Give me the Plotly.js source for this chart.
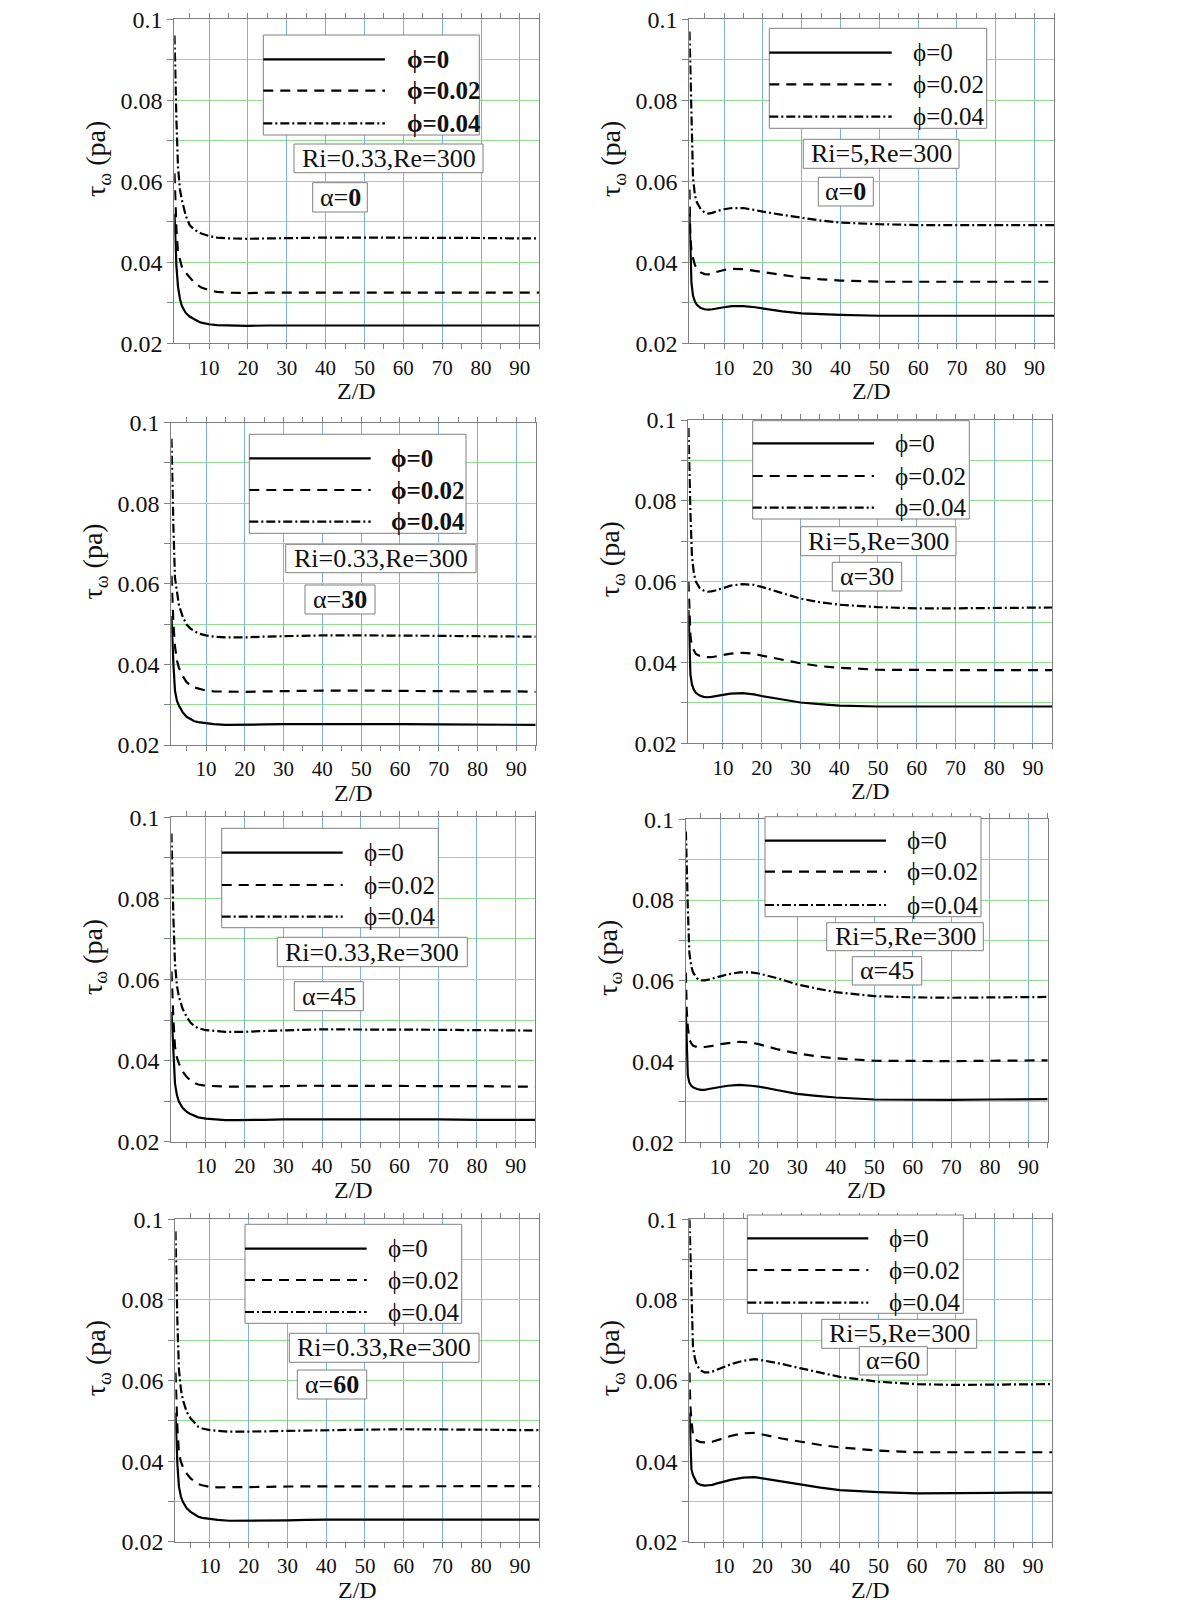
<!DOCTYPE html>
<html>
<head>
<meta charset="utf-8">
<script src="https://cdn.plot.ly/plotly-3.0.1.min.js"></script>
<style>
html,body{margin:0;padding:0;background:#fff;}
#chart{width:1200px;height:1612px;}
</style>
</head>
<body>
<div id="chart"></div>
<script>
// ---------- DATA ----------
const Z_D = [1.1,1.3,1.6,2,2.5,3,4,5,6,7,8,10,12,15,18,20,25,30,35,40,50,60,70,80,90,95];

// Ri=0.33, alpha=0
const P1_PHI0   = [0.052,0.046,0.039,0.034,0.031,0.0292,0.0275,0.0266,0.026,0.0255,0.0251,0.0247,0.0245,0.0244,0.0243,0.0243,0.0244,0.0244,0.0245,0.0245,0.0245,0.0245,0.0244,0.0244,0.0244,0.0244];
const P1_PHI002 = [0.062,0.055,0.048,0.0425,0.0403,0.0389,0.0374,0.0363,0.0352,0.0344,0.0338,0.0331,0.0327,0.0325,0.0324,0.0324,0.0325,0.0325,0.0325,0.0326,0.0326,0.0326,0.0325,0.0325,0.0325,0.0325];
const P1_PHI004 = [0.096,0.086,0.075,0.0636,0.058,0.0554,0.0515,0.0492,0.0482,0.0476,0.0471,0.0465,0.0461,0.0459,0.0458,0.0458,0.0459,0.046,0.0461,0.0461,0.0461,0.0461,0.046,0.046,0.0459,0.0459];

// Ri=5, alpha=0
const P2_PHI0   = [0.052,0.043,0.035,0.0318,0.0303,0.0295,0.0287,0.0284,0.0283,0.0284,0.0286,0.0289,0.0292,0.0292,0.0289,0.0286,0.0279,0.0274,0.0272,0.027,0.0268,0.0268,0.0268,0.0268,0.0268,0.0268];
const P2_PHI002 = [0.058,0.047,0.0425,0.0408,0.0393,0.0385,0.0375,0.0371,0.037,0.0372,0.0376,0.0381,0.0384,0.0383,0.0379,0.0375,0.0368,0.0362,0.0358,0.0355,0.0352,0.0352,0.0352,0.0352,0.0352,0.0352];
const P2_PHI004 = [0.097,0.087,0.072,0.061,0.0565,0.0548,0.0531,0.0523,0.052,0.0522,0.0526,0.0531,0.0534,0.0534,0.0529,0.0525,0.0517,0.051,0.0503,0.0498,0.0494,0.0492,0.0492,0.0492,0.0492,0.0492];

// Ri=0.33, alpha=30
const P3_PHI0   = [0.052,0.046,0.04,0.0335,0.031,0.0298,0.0281,0.027,0.0264,0.0259,0.0257,0.0254,0.0252,0.025,0.025,0.025,0.0251,0.0252,0.0252,0.0253,0.0252,0.0252,0.0251,0.0251,0.0251,0.025];
const P3_PHI002 = [0.062,0.056,0.05,0.0445,0.041,0.0392,0.0371,0.0356,0.0348,0.0343,0.034,0.0335,0.0333,0.0332,0.0332,0.0332,0.0333,0.0334,0.0335,0.0335,0.0335,0.0334,0.0334,0.0333,0.0333,0.0332];
const P3_PHI004 = [0.096,0.086,0.074,0.0615,0.0575,0.0548,0.0518,0.0499,0.0489,0.0482,0.0477,0.0472,0.0469,0.0467,0.0467,0.0467,0.0469,0.047,0.0471,0.0472,0.0472,0.0472,0.0471,0.047,0.0469,0.0469];

// Ri=5, alpha=30
const P4_PHI0   = [0.053,0.045,0.037,0.0345,0.0332,0.0325,0.0318,0.0315,0.0314,0.0315,0.0317,0.032,0.0323,0.0324,0.0321,0.0317,0.0309,0.0301,0.0297,0.0293,0.0291,0.0291,0.0291,0.0291,0.0291,0.0291];
const P4_PHI002 = [0.06,0.052,0.0465,0.0439,0.0428,0.0421,0.0416,0.0414,0.0413,0.0413,0.0415,0.0418,0.0422,0.0424,0.0422,0.0417,0.0408,0.0398,0.0391,0.0387,0.0382,0.0381,0.0381,0.0381,0.0381,0.0381];
const P4_PHI004 = [0.098,0.088,0.077,0.0662,0.062,0.06,0.0584,0.0578,0.0575,0.0576,0.0578,0.0584,0.059,0.0594,0.0592,0.0587,0.0573,0.0558,0.0549,0.0543,0.0537,0.0534,0.0534,0.0535,0.0536,0.0536];

// Ri=0.33, alpha=45
const P5_PHI0   = [0.052,0.047,0.04,0.0344,0.0315,0.0299,0.0283,0.0274,0.0268,0.0263,0.026,0.0257,0.0255,0.0253,0.0253,0.0253,0.0254,0.0255,0.0255,0.0256,0.0255,0.0255,0.0255,0.0254,0.0254,0.0254];
const P5_PHI002 = [0.062,0.056,0.05,0.0434,0.0408,0.0393,0.0373,0.036,0.0351,0.0345,0.0341,0.0338,0.0337,0.0336,0.0336,0.0336,0.0337,0.0337,0.0338,0.0338,0.0338,0.0338,0.0337,0.0337,0.0336,0.0336];
const P5_PHI004 = [0.096,0.086,0.075,0.064,0.0585,0.0558,0.0527,0.0508,0.0494,0.0485,0.048,0.0475,0.0473,0.0471,0.0471,0.0471,0.0473,0.0475,0.0476,0.0477,0.0477,0.0477,0.0476,0.0475,0.0474,0.0474];

// Ri=5, alpha=45
const P6_PHI0   = [0.052,0.043,0.0365,0.0348,0.034,0.0336,0.0332,0.033,0.033,0.0332,0.0334,0.0337,0.034,0.0342,0.034,0.0338,0.0329,0.032,0.0315,0.0311,0.0306,0.0305,0.0305,0.0306,0.0307,0.0307];
const P6_PHI002 = [0.062,0.053,0.0485,0.0455,0.0445,0.0439,0.0436,0.0435,0.0436,0.0437,0.0439,0.0443,0.0446,0.0449,0.0447,0.0443,0.043,0.042,0.0413,0.0408,0.0402,0.0401,0.0401,0.0402,0.0403,0.0403];
const P6_PHI004 = [0.097,0.088,0.078,0.0669,0.0635,0.062,0.0606,0.0601,0.0601,0.0603,0.0606,0.0611,0.0616,0.0621,0.0621,0.0618,0.0606,0.0591,0.0581,0.0572,0.0562,0.0559,0.0558,0.0559,0.056,0.056];

// Ri=0.33, alpha=60
const P7_PHI0   = [0.052,0.046,0.039,0.0336,0.0312,0.0299,0.0283,0.0274,0.0267,0.0262,0.0259,0.0256,0.0254,0.0252,0.0252,0.0252,0.0253,0.0253,0.0254,0.0255,0.0255,0.0255,0.0255,0.0255,0.0255,0.0255];
const P7_PHI002 = [0.062,0.055,0.048,0.0419,0.0398,0.0386,0.0369,0.0357,0.0349,0.0343,0.034,0.0336,0.0335,0.0335,0.0335,0.0335,0.0336,0.0337,0.0337,0.0338,0.0338,0.0338,0.0338,0.0338,0.0338,0.0338];
const P7_PHI004 = [0.097,0.086,0.074,0.0626,0.0578,0.0552,0.0522,0.0506,0.0494,0.0485,0.0481,0.0477,0.0475,0.0473,0.0473,0.0473,0.0474,0.0475,0.0476,0.0477,0.0478,0.0479,0.0479,0.0478,0.0477,0.0477];

// Ri=5, alpha=60
const P8_PHI0   = [0.052,0.044,0.038,0.0365,0.0353,0.0346,0.0341,0.0339,0.034,0.0341,0.0344,0.0349,0.0354,0.0359,0.036,0.0357,0.0349,0.0341,0.0334,0.0328,0.0323,0.032,0.032,0.0321,0.0322,0.0322];
const P8_PHI002 = [0.062,0.054,0.05,0.0465,0.0456,0.0451,0.0447,0.0446,0.0446,0.0448,0.0451,0.0458,0.0463,0.0469,0.047,0.0466,0.0456,0.0448,0.044,0.0434,0.0426,0.0422,0.0422,0.0422,0.0422,0.0422];
const P8_PHI004 = [0.1,0.091,0.081,0.0684,0.0655,0.0638,0.0625,0.062,0.062,0.0622,0.0626,0.0634,0.0641,0.0649,0.0653,0.065,0.0641,0.063,0.0619,0.0609,0.0597,0.0591,0.0589,0.059,0.0591,0.0591];

const PHI_LABELS   = ['ϕ=0','ϕ=0.02','ϕ=0.04'];
const RI_LABELS    = ['Ri=0.33,Re=300','Ri=5,Re=300','Ri=0.33,Re=300','Ri=5,Re=300','Ri=0.33,Re=300','Ri=5,Re=300','Ri=0.33,Re=300','Ri=5,Re=300'];
const ALPHA_VALUES = ['0','0','30','30','45','45','60','60'];
const X_TICKS      = [10,20,30,40,50,60,70,80,90];
const X_TICK_TEXT  = ['10','20','30','40','50','60','70','80','90'];
const X_MINOR      = [5,15,25,35,45,55,65,75,85,95];
const Y_TICKS      = [0.02,0.04,0.06,0.08,0.1];
const Y_TICK_TEXT  = ['0.02','0.04','0.06','0.08','0.1'];
const Y_MINOR      = [0.03,0.05,0.07,0.09];
const X_TITLE = 'Z/D';
const Y_TITLE = 'τ<sub>ω</sub> (pa)';

const SERIES = [
  [P1_PHI0,P1_PHI002,P1_PHI004],[P2_PHI0,P2_PHI002,P2_PHI004],
  [P3_PHI0,P3_PHI002,P3_PHI004],[P4_PHI0,P4_PHI002,P4_PHI004],
  [P5_PHI0,P5_PHI002,P5_PHI004],[P6_PHI0,P6_PHI002,P6_PHI004],
  [P7_PHI0,P7_PHI002,P7_PHI004],[P8_PHI0,P8_PHI002,P8_PHI004]
];

// ---------- LAYOUT GEOMETRY (pixels) ----------
const W = 1200, H = 1612;
const GEO = [
  {L:174.3,R:539.3,T:19.3,B:343.3, leg:[263.3,479.3,35,135],   rows:[59.3,90.7,123.3],    lx:385,   tx:405,   ri:[294,483,144,172.7],      al:[312.7,367.3,182.7,212],  bold:true},
  {L:689.3,R:1054,T:19.3,B:343.3,  leg:[769.3,986.7,28.3,128.3],rows:[52.7,84.3,116.7],    lx:891.7, tx:910.7, ri:[803.3,959,139.3,168.3],  al:[818.3,873.3,177.3,206],  bold:false},
  {L:171.3,R:535.7,T:422.7,B:745,  leg:[249.3,466,434.3,533.3], rows:[458.3,490,521.7],    lx:370.7, tx:389.3, ri:[285.7,476,544.3,572.7],  al:[305,375,585,614],        bold:true},
  {L:688.3,R:1052.3,T:420,B:743.3, leg:[752.7,969.3,420.7,519], rows:[443.3,476,507.7],    lx:874,   tx:893.3, ri:[800.7,956,526.7,555.7],  al:[832.3,901.7,562.3,591],  bold:false},
  {L:171.3,R:535,T:817.3,B:1141.7, leg:[221.7,438.3,828.3,927.7],rows:[852.7,885,916.7],   lx:342.7, tx:361.7, ri:[277.3,467.3,937.3,966.7],al:[294.3,363.3,981.7,1010.7],bold:false},
  {L:685.7,R:1047.7,T:819.3,B:1142.3,leg:[765,981,816.7,916.7], rows:[840.7,871.7,905],    lx:886,   tx:905,   ri:[826.7,983.3,922.7,950.7],al:[852.3,921.7,956.7,985],  bold:false},
  {L:175.3,R:539.3,T:1219.3,B:1541.7,leg:[245,461.7,1224.3,1323.3],rows:[1248.7,1280,1312],lx:366.7, tx:386,   ri:[289.3,479,1333.3,1362.3],al:[297.3,366.7,1370,1399],  bold:false},
  {L:689.3,R:1052.3,T:1219.3,B:1541.7,leg:[747.3,963.3,1215,1313.3],rows:[1238.3,1270,1302.7],lx:868.3,tx:887.3,ri:[821.7,976.7,1319.3,1348.3],al:[859.3,927.3,1346.7,1375],bold:false}
];
const ALPHA_BOLD = [true,true,true,false,false,false,true,false];

const FONT = 'Liberation Serif';
const INK = '#111111';
const AXIS_GRAY = '#808080';
const GRID_BLUE = '#7eb2e2';
const GRID_GREEN = '#8fdf8f';
const DASHES = ['solid','10px,7px','9px,3px,2px,3px'];
const LW = 2.2;

const px = v => v / W;
const py = v => 1 - v / H;

const data = [];
const layout = {
  width: W, height: H,
  margin: {l:0, r:0, t:0, b:0, pad:0},
  paper_bgcolor: '#ffffff',
  plot_bgcolor: '#ffffff',
  showlegend: false,
  font: {family: FONT, color: INK, size: 20},
  shapes: [],
  annotations: []
};

GEO.forEach((g, i) => {
  const n = i + 1;
  const xk = n === 1 ? 'xaxis' : 'xaxis' + n;
  const yk = n === 1 ? 'yaxis' : 'yaxis' + n;
  const xr = n === 1 ? 'x' : 'x' + n;
  const yr = n === 1 ? 'y' : 'y' + n;

  layout[xk] = {
    domain: [px(g.L), px(g.R)], anchor: yr, range: [1.05, 95],
    tickmode: 'array', tickvals: X_TICKS, ticktext: X_TICK_TEXT,
    ticks: 'outside', ticklen: 5, tickwidth: 1, tickcolor: AXIS_GRAY,
    showline: true, linecolor: AXIS_GRAY, linewidth: 1, mirror: 'ticks',
    showgrid: true, gridcolor: GRID_BLUE, gridwidth: 1, zeroline: false,
    tickfont: {family: FONT, size: 21, color: INK},
    minor: {tickmode: 'array', tickvals: X_MINOR, ticks: 'outside', ticklen: 5, tickcolor: AXIS_GRAY, showgrid: false},
    fixedrange: true
  };
  layout[yk] = {
    domain: [py(g.B), py(g.T)], anchor: xr, range: [0.02, 0.1],
    tickmode: 'array', tickvals: Y_TICKS, ticktext: Y_TICK_TEXT,
    ticks: 'outside', ticklen: 6, tickwidth: 1, tickcolor: AXIS_GRAY,
    showline: true, linecolor: AXIS_GRAY, linewidth: 1, mirror: true,
    showgrid: true, gridcolor: GRID_GREEN, gridwidth: 1, zeroline: false,
    tickfont: {family: FONT, size: 24, color: INK},
    minor: {tickmode: 'array', tickvals: Y_MINOR, ticks: 'outside', ticklen: 6, tickcolor: AXIS_GRAY, showgrid: true, gridcolor: GRID_GREEN, gridwidth: 1},
    fixedrange: true
  };

  SERIES[i].forEach((ys, k) => {
    data.push({
      type: 'scatter', mode: 'lines', x: Z_D, y: ys,
      xaxis: xr, yaxis: yr, name: PHI_LABELS[k],
      line: {color: '#000000', width: LW, dash: DASHES[k]},
      hoverinfo: 'skip'
    });
  });

  // axis titles
  layout.annotations.push({
    xref: 'paper', yref: 'paper', x: px(g.L - 77), y: py(g.T + 0.43 * (g.B - g.T)),
    text: Y_TITLE, showarrow: false, textangle: -90, xanchor: 'center', yanchor: 'middle',
    font: {family: FONT, size: 28, color: INK}
  });
  layout.annotations.push({
    xref: 'paper', yref: 'paper', x: px((g.L + g.R) / 2), y: py(g.B + 48),
    text: X_TITLE, showarrow: false, xanchor: 'center', yanchor: 'middle',
    font: {family: FONT, size: 24, color: INK}
  });

  // legend box
  layout.shapes.push({
    type: 'rect', xref: 'paper', yref: 'paper', layer: 'above',
    x0: px(g.leg[0]), x1: px(g.leg[1]), y0: py(g.leg[3]), y1: py(g.leg[2]),
    fillcolor: '#ffffff', line: {color: AXIS_GRAY, width: 1}
  });
  g.rows.forEach((ry, k) => {
    layout.shapes.push({
      type: 'line', xref: 'paper', yref: 'paper', layer: 'above',
      x0: px(g.leg[0]), x1: px(g.lx), y0: py(ry), y1: py(ry),
      line: {color: '#000000', width: LW, dash: DASHES[k]}
    });
    layout.annotations.push({
      xref: 'paper', yref: 'paper', x: px(g.tx), y: py(ry),
      text: g.bold ? '<b>' + PHI_LABELS[k] + '</b>' : PHI_LABELS[k],
      showarrow: false, xanchor: 'left', yanchor: 'middle',
      font: {family: FONT, size: 25, color: INK}
    });
  });

  // Ri/Re box
  layout.shapes.push({
    type: 'rect', xref: 'paper', yref: 'paper', layer: 'above',
    x0: px(g.ri[0]), x1: px(g.ri[1]), y0: py(g.ri[3]), y1: py(g.ri[2]),
    fillcolor: '#ffffff', line: {color: AXIS_GRAY, width: 1}
  });
  layout.annotations.push({
    xref: 'paper', yref: 'paper', x: px((g.ri[0] + g.ri[1]) / 2), y: py((g.ri[2] + g.ri[3]) / 2),
    text: RI_LABELS[i], showarrow: false, xanchor: 'center', yanchor: 'middle',
    font: {family: FONT, size: 26, color: INK}
  });

  // alpha box
  layout.shapes.push({
    type: 'rect', xref: 'paper', yref: 'paper', layer: 'above',
    x0: px(g.al[0]), x1: px(g.al[1]), y0: py(g.al[3]), y1: py(g.al[2]),
    fillcolor: '#ffffff', line: {color: AXIS_GRAY, width: 1}
  });
  layout.annotations.push({
    xref: 'paper', yref: 'paper', x: px((g.al[0] + g.al[1]) / 2), y: py((g.al[2] + g.al[3]) / 2),
    text: 'α=' + (ALPHA_BOLD[i] ? '<b>' + ALPHA_VALUES[i] + '</b>' : ALPHA_VALUES[i]),
    showarrow: false, xanchor: 'center', yanchor: 'middle',
    font: {family: FONT, size: 26, color: INK}
  });
});

Plotly.newPlot('chart', data, layout, {staticPlot: true, displayModeBar: false});
</script>
</body>
</html>
